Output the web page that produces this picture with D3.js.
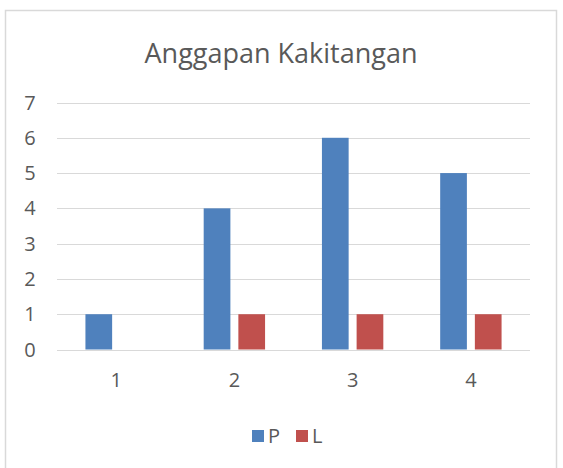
<!DOCTYPE html>
<html><head><meta charset="utf-8">
<script src="https://cdn.jsdelivr.net/npm/d3@7"></script>
<style>body{margin:0;background:#fff}svg{display:block}text{font-family:"Open Sans",sans-serif;fill:#595959}</style>
</head><body>
<svg id="c" width="563" height="468"></svg>
<script>
const categories = ["1","2","3","4"];
const seriesNames = ["P","L"];
const valuesP = [1,4,6,5];
const valuesL = [0,1,1,1];
const yTicks = [0,1,2,3,4,5,6,7];
const chartTitle = "Anggapan Kakitangan";
const colors = ["#4f81bd","#c0504d"];

(function(){
const svg = d3.select("#c");
svg.append("rect").attr("x",5.5).attr("y",10.5).attr("width",551).attr("height",470)
  .attr("fill","#fff").attr("stroke","#d9d9d9").attr("stroke-width",1.5);

const pl=57, pr=530, pt=102.5, pb=349.5;
const y = d3.scaleLinear().domain([0,7]).range([pb,pt]);
const x0 = d3.scaleBand().domain(categories).range([pl,pr]).padding(0);
const x1 = d3.scaleBand().domain(seriesNames).range([0,x0.bandwidth()]).paddingInner(0.23).paddingOuter(0.82);

svg.append("text").attr("x",281).attr("y",63).attr("text-anchor","middle")
  .style("font-size","27px").text(chartTitle);

svg.append("g").selectAll("line").data(yTicks).join("line")
  .attr("x1",pl).attr("x2",pr)
  .attr("y1",d=>Math.round(y(d))+0.5).attr("y2",d=>Math.round(y(d))+0.5)
  .attr("stroke","#d9d9d9").attr("stroke-width",1);

svg.append("g").selectAll("text").data(yTicks).join("text")
  .attr("x",30).attr("y",d=>y(d)).attr("dy","0.35em").attr("text-anchor","middle")
  .style("font-size","20px").text(d=>d);

const data = categories.map((c,i)=>({c, vals:[valuesP[i],valuesL[i]]}));
const g = svg.append("g").selectAll("g").data(data).join("g")
  .attr("transform",d=>`translate(${x0(d.c)},0)`);
g.selectAll("rect").data(d=>d.vals.map((v,j)=>({s:seriesNames[j],v,j}))).join("rect")
  .attr("x",d=>x1(d.s)).attr("width",x1.bandwidth())
  .attr("y",d=>y(d.v)).attr("height",d=>y(0)-y(d.v))
  .attr("fill",d=>colors[d.j]);

svg.append("g").selectAll("text").data(categories).join("text")
  .attr("x",d=>x0(d)+x0.bandwidth()/2).attr("y",380).attr("dy","0.35em").attr("text-anchor","middle")
  .style("font-size","20px").text(d=>d);

const leg = [{n:"P",x:252},{n:"L",x:296}];
const lg = svg.append("g").selectAll("g").data(leg).join("g");
lg.append("rect").attr("x",d=>d.x).attr("y",430).attr("width",12).attr("height",12).attr("fill",(d,i)=>colors[i]);
lg.append("text").attr("x",d=>d.x+16).attr("y",436).attr("dy","0.35em").style("font-size","20px").text(d=>d.n);
})();
</script>
</body></html>
